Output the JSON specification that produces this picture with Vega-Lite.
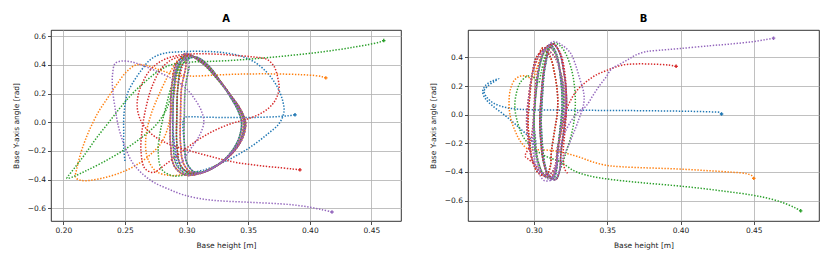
{
"$schema": "https://vega.github.io/schema/vega-lite/v6.json",
"padding": {"left": 11, "top": 13, "right": 5, "bottom": 4},
"spacing": 26,
"config": {
 "font": "DejaVu Sans",
 "view": {"stroke": "#000", "strokeWidth": 0.8},
 "axis": {"labelFont": "DejaVu Sans", "labelFontSize": 7.5, "labelColor": "#222", "titleFont": "DejaVu Sans", "titleFontSize": 7.5, "titleFontWeight": "normal", "titleColor": "#222", "tickColor": "#222", "tickSize": 3.5, "tickWidth": 0.8, "domain": false, "gridColor": "#b0b0b0", "gridWidth": 0.8, "labelPadding": 2, "titlePadding": 7, "labelFlush": false, "labelOverlap": false},
 "title": {"font": "DejaVu Sans", "fontSize": 10, "fontWeight": "bold", "offset": 6, "color": "#000"}
},
"datasets": {
"a": [
{"s":0,"x":0.250,"y":-0.270},{"s":0,"x":0.249,"y":-0.180},{"s":0,"x":0.249,"y":-0.080},{"s":0,"x":0.249,"y":0.020},{"s":0,"x":0.250,"y":0.120},{"s":0,"x":0.252,"y":0.200},{"s":0,"x":0.256,"y":0.270},{"s":0,"x":0.263,"y":0.360},{"s":0,"x":0.271,"y":0.440},{"s":0,"x":0.281,"y":0.480},{"s":0,"x":0.295,"y":0.492},{"s":0,"x":0.312,"y":0.495},{"s":0,"x":0.328,"y":0.488},{"s":0,"x":0.344,"y":0.462},{"s":0,"x":0.357,"y":0.410},{"s":0,"x":0.367,"y":0.330},{"s":0,"x":0.374,"y":0.240},{"s":0,"x":0.378,"y":0.150},{"s":0,"x":0.379,"y":0.070},{"s":0,"x":0.375,"y":-0.010},{"s":0,"x":0.366,"y":-0.080},{"s":0,"x":0.354,"y":-0.160},{"s":0,"x":0.341,"y":-0.230},{"s":0,"x":0.327,"y":-0.290},{"s":0,"x":0.313,"y":-0.335},{"s":0,"x":0.302,"y":-0.345},{"s":0,"x":0.294,"y":-0.310},{"s":0,"x":0.290,"y":-0.150},{"s":0,"x":0.289,"y":0.100},{"s":0,"x":0.292,"y":0.350},
{"s":0,"x":0.2985,"y":0.479},{"s":0,"x":0.3122,"y":0.418},{"s":0,"x":0.3248,"y":0.306},{"s":0,"x":0.3353,"y":0.194},{"s":0,"x":0.3437,"y":0.092},{"s":0,"x":0.3479,"y":0.0},{"s":0,"x":0.3458,"y":-0.102},{"s":0,"x":0.3384,"y":-0.204},{"s":0,"x":0.3258,"y":-0.296},{"s":0,"x":0.3111,"y":-0.357},{"s":0,"x":0.2985,"y":-0.367},{"s":0,"x":0.2901,"y":-0.306},{"s":0,"x":0.287,"y":-0.153},{"s":0,"x":0.287,"y":0.051},{"s":0,"x":0.288,"y":0.255},{"s":0,"x":0.2922,"y":0.418},
{"s":0,"x":0.3025,"y":0.465},{"s":0,"x":0.3149,"y":0.406},{"s":0,"x":0.3263,"y":0.297},{"s":0,"x":0.3358,"y":0.188},{"s":0,"x":0.3434,"y":0.089},{"s":0,"x":0.3472,"y":0.0},{"s":0,"x":0.3453,"y":-0.099},{"s":0,"x":0.3386,"y":-0.198},{"s":0,"x":0.3272,"y":-0.287},{"s":0,"x":0.3139,"y":-0.347},{"s":0,"x":0.3025,"y":-0.356},{"s":0,"x":0.2949,"y":-0.297},{"s":0,"x":0.2921,"y":-0.149},{"s":0,"x":0.2921,"y":0.05},{"s":0,"x":0.293,"y":0.248},{"s":0,"x":0.2968,"y":0.406},
{"s":0,"x":0.307,"y":0.456},{"s":0,"x":0.3174,"y":0.398},{"s":0,"x":0.327,"y":0.291},{"s":0,"x":0.335,"y":0.184},{"s":0,"x":0.3414,"y":0.087},{"s":0,"x":0.3446,"y":0.0},{"s":0,"x":0.343,"y":-0.097},{"s":0,"x":0.3374,"y":-0.194},{"s":0,"x":0.3278,"y":-0.281},{"s":0,"x":0.3166,"y":-0.34},{"s":0,"x":0.307,"y":-0.349},{"s":0,"x":0.3006,"y":-0.291},{"s":0,"x":0.2982,"y":-0.146},{"s":0,"x":0.2982,"y":0.030},
{"s":0,"x":0.305,"y":0.038},{"s":0,"x":0.315,"y":0.035},{"s":0,"x":0.325,"y":0.034},{"s":0,"x":0.335,"y":0.033},{"s":0,"x":0.345,"y":0.033},{"s":0,"x":0.355,"y":0.034},{"s":0,"x":0.365,"y":0.036},{"s":0,"x":0.375,"y":0.040},{"s":0,"x":0.383,"y":0.046},{"s":0,"x":0.388,"y":0.052,"m":1},

{"s":1,"x":0.413,"y":0.310,"m":1},{"s":1,"x":0.410,"y":0.318},{"s":1,"x":0.404,"y":0.326},{"s":1,"x":0.394,"y":0.332},{"s":1,"x":0.380,"y":0.336},{"s":1,"x":0.365,"y":0.338},{"s":1,"x":0.350,"y":0.337},{"s":1,"x":0.335,"y":0.334},{"s":1,"x":0.320,"y":0.328},{"s":1,"x":0.305,"y":0.322},{"s":1,"x":0.292,"y":0.330},{"s":1,"x":0.280,"y":0.360},{"s":1,"x":0.268,"y":0.395},{"s":1,"x":0.259,"y":0.400},{"s":1,"x":0.251,"y":0.350},{"s":1,"x":0.243,"y":0.260},{"s":1,"x":0.236,"y":0.170},{"s":1,"x":0.229,"y":0.080},{"s":1,"x":0.223,"y":-0.020},{"s":1,"x":0.218,"y":-0.120},{"s":1,"x":0.214,"y":-0.220},{"s":1,"x":0.211,"y":-0.320},{"s":1,"x":0.210,"y":-0.385},{"s":1,"x":0.214,"y":-0.405},{"s":1,"x":0.222,"y":-0.405},{"s":1,"x":0.234,"y":-0.385},{"s":1,"x":0.247,"y":-0.350},{"s":1,"x":0.259,"y":-0.300},{"s":1,"x":0.270,"y":-0.230},{"s":1,"x":0.279,"y":-0.150},{"s":1,"x":0.284,"y":-0.060},{"s":1,"x":0.287,"y":0.050},{"s":1,"x":0.290,"y":0.200},{"s":1,"x":0.293,"y":0.350},{"s":1,"x":0.297,"y":0.440},
{"s":1,"x":0.300,"y":0.47},{"s":1,"x":0.313,"y":0.41},{"s":1,"x":0.325,"y":0.30},{"s":1,"x":0.335,"y":0.19},{"s":1,"x":0.343,"y":0.09},{"s":1,"x":0.347,"y":0.0},{"s":1,"x":0.345,"y":-0.10},{"s":1,"x":0.338,"y":-0.20},{"s":1,"x":0.326,"y":-0.29},{"s":1,"x":0.312,"y":-0.35},{"s":1,"x":0.300,"y":-0.36},
{"s":1,"x":0.287,"y":-0.372},{"s":1,"x":0.275,"y":-0.340},{"s":1,"x":0.268,"y":-0.240},{"s":1,"x":0.267,"y":-0.100},{"s":1,"x":0.271,"y":0.050},{"s":1,"x":0.278,"y":0.200},{"s":1,"x":0.286,"y":0.340},{"s":1,"x":0.294,"y":0.440},
{"s":1,"x":0.3048,"y":0.461},{"s":1,"x":0.3162,"y":0.402},{"s":1,"x":0.3268,"y":0.294},{"s":1,"x":0.3356,"y":0.186},{"s":1,"x":0.3426,"y":0.088},{"s":1,"x":0.3462,"y":0.0},{"s":1,"x":0.3444,"y":-0.098},{"s":1,"x":0.3382,"y":-0.196},{"s":1,"x":0.3277,"y":-0.284},{"s":1,"x":0.3154,"y":-0.343},{"s":1,"x":0.3048,"y":-0.353},{"s":1,"x":0.2978,"y":-0.294},{"s":1,"x":0.2951,"y":-0.147},{"s":1,"x":0.2951,"y":0.049},{"s":1,"x":0.296,"y":0.245},{"s":1,"x":0.2995,"y":0.402},
{"s":1,"x":0.2985,"y":0.479},{"s":1,"x":0.3122,"y":0.418},{"s":1,"x":0.3248,"y":0.306},{"s":1,"x":0.3353,"y":0.194},{"s":1,"x":0.3437,"y":0.092},{"s":1,"x":0.3479,"y":0.0},{"s":1,"x":0.3458,"y":-0.102},{"s":1,"x":0.3384,"y":-0.204},{"s":1,"x":0.3258,"y":-0.296},{"s":1,"x":0.3111,"y":-0.357},{"s":1,"x":0.2985,"y":-0.367},{"s":1,"x":0.2901,"y":-0.306},{"s":1,"x":0.287,"y":-0.153},{"s":1,"x":0.287,"y":0.051},{"s":1,"x":0.288,"y":0.255},{"s":1,"x":0.2922,"y":0.418},

{"s":2,"x":0.460,"y":0.570,"m":1},{"s":2,"x":0.456,"y":0.558},{"s":2,"x":0.448,"y":0.543},{"s":2,"x":0.436,"y":0.525},{"s":2,"x":0.420,"y":0.503},{"s":2,"x":0.403,"y":0.484},{"s":2,"x":0.385,"y":0.467},{"s":2,"x":0.367,"y":0.452},{"s":2,"x":0.350,"y":0.440},{"s":2,"x":0.333,"y":0.430},{"s":2,"x":0.316,"y":0.424},{"s":2,"x":0.300,"y":0.418},{"s":2,"x":0.287,"y":0.400},{"s":2,"x":0.276,"y":0.350},{"s":2,"x":0.266,"y":0.280},{"s":2,"x":0.256,"y":0.200},{"s":2,"x":0.246,"y":0.100},{"s":2,"x":0.236,"y":-0.010},{"s":2,"x":0.226,"y":-0.120},{"s":2,"x":0.217,"y":-0.230},{"s":2,"x":0.209,"y":-0.320},{"s":2,"x":0.204,"y":-0.375},{"s":2,"x":0.203,"y":-0.392},{"s":2,"x":0.208,"y":-0.380},{"s":2,"x":0.218,"y":-0.340},{"s":2,"x":0.232,"y":-0.280},{"s":2,"x":0.248,"y":-0.200},{"s":2,"x":0.263,"y":-0.110},{"s":2,"x":0.275,"y":-0.020},{"s":2,"x":0.283,"y":0.080},{"s":2,"x":0.288,"y":0.200},{"s":2,"x":0.292,"y":0.340},{"s":2,"x":0.297,"y":0.440},
{"s":2,"x":0.3025,"y":0.465},{"s":2,"x":0.3149,"y":0.406},{"s":2,"x":0.3263,"y":0.297},{"s":2,"x":0.3358,"y":0.188},{"s":2,"x":0.3434,"y":0.089},{"s":2,"x":0.3472,"y":0.0},{"s":2,"x":0.3453,"y":-0.099},{"s":2,"x":0.3386,"y":-0.198},{"s":2,"x":0.3272,"y":-0.287},{"s":2,"x":0.3139,"y":-0.347},{"s":2,"x":0.3025,"y":-0.356},{"s":2,"x":0.2949,"y":-0.297},{"s":2,"x":0.2921,"y":-0.149},{"s":2,"x":0.2921,"y":0.05},{"s":2,"x":0.293,"y":0.248},{"s":2,"x":0.2968,"y":0.406},
{"s":2,"x":0.307,"y":0.456},{"s":2,"x":0.3174,"y":0.398},{"s":2,"x":0.327,"y":0.291},{"s":2,"x":0.335,"y":0.184},{"s":2,"x":0.3414,"y":0.087},{"s":2,"x":0.3446,"y":0.0},{"s":2,"x":0.343,"y":-0.097},{"s":2,"x":0.3374,"y":-0.194},{"s":2,"x":0.3278,"y":-0.281},{"s":2,"x":0.3166,"y":-0.34},{"s":2,"x":0.307,"y":-0.349},
{"s":2,"x":0.290,"y":-0.375},{"s":2,"x":0.280,"y":-0.330},{"s":2,"x":0.277,"y":-0.200},{"s":2,"x":0.279,"y":-0.050},{"s":2,"x":0.283,"y":0.100},{"s":2,"x":0.288,"y":0.260},{"s":2,"x":0.294,"y":0.400},
{"s":2,"x":0.300,"y":0.47},{"s":2,"x":0.313,"y":0.41},{"s":2,"x":0.325,"y":0.30},{"s":2,"x":0.335,"y":0.19},{"s":2,"x":0.343,"y":0.09},{"s":2,"x":0.347,"y":0.0},{"s":2,"x":0.345,"y":-0.10},{"s":2,"x":0.338,"y":-0.20},{"s":2,"x":0.326,"y":-0.29},{"s":2,"x":0.312,"y":-0.35},{"s":2,"x":0.300,"y":-0.36},{"s":2,"x":0.292,"y":-0.30},{"s":2,"x":0.289,"y":-0.15},{"s":2,"x":0.289,"y":0.05},{"s":2,"x":0.290,"y":0.25},{"s":2,"x":0.294,"y":0.41},
{"s":2,"x":0.307,"y":0.456},{"s":2,"x":0.3174,"y":0.398},{"s":2,"x":0.327,"y":0.291},{"s":2,"x":0.335,"y":0.184},{"s":2,"x":0.3414,"y":0.087},{"s":2,"x":0.3446,"y":0.0},{"s":2,"x":0.343,"y":-0.097},{"s":2,"x":0.3374,"y":-0.194},{"s":2,"x":0.3278,"y":-0.281},{"s":2,"x":0.3166,"y":-0.34},{"s":2,"x":0.307,"y":-0.349},{"s":2,"x":0.3006,"y":-0.291},{"s":2,"x":0.2982,"y":-0.146},{"s":2,"x":0.2982,"y":0.049},{"s":2,"x":0.299,"y":0.243},{"s":2,"x":0.3022,"y":0.398},

{"s":3,"x":0.392,"y":-0.332,"m":1},{"s":3,"x":0.386,"y":-0.326},{"s":3,"x":0.377,"y":-0.318},{"s":3,"x":0.366,"y":-0.309},{"s":3,"x":0.354,"y":-0.297},{"s":3,"x":0.342,"y":-0.283},{"s":3,"x":0.330,"y":-0.262},{"s":3,"x":0.318,"y":-0.235},{"s":3,"x":0.305,"y":-0.205},{"s":3,"x":0.292,"y":-0.172},{"s":3,"x":0.280,"y":-0.130},{"s":3,"x":0.270,"y":-0.070},{"s":3,"x":0.263,"y":0.010},{"s":3,"x":0.260,"y":0.100},{"s":3,"x":0.261,"y":0.200},{"s":3,"x":0.265,"y":0.290},{"s":3,"x":0.271,"y":0.370},{"s":3,"x":0.280,"y":0.430},{"s":3,"x":0.292,"y":0.465},{"s":3,"x":0.308,"y":0.478},{"s":3,"x":0.325,"y":0.475},{"s":3,"x":0.342,"y":0.465},{"s":3,"x":0.355,"y":0.455},{"s":3,"x":0.365,"y":0.440},{"s":3,"x":0.371,"y":0.390},{"s":3,"x":0.374,"y":0.310},{"s":3,"x":0.375,"y":0.230},{"s":3,"x":0.371,"y":0.140},{"s":3,"x":0.362,"y":0.070},{"s":3,"x":0.350,"y":0.025},{"s":3,"x":0.336,"y":-0.010},{"s":3,"x":0.322,"y":-0.060},{"s":3,"x":0.308,"y":-0.130},{"s":3,"x":0.294,"y":-0.220},{"s":3,"x":0.282,"y":-0.300},{"s":3,"x":0.273,"y":-0.350},{"s":3,"x":0.266,"y":-0.320},{"s":3,"x":0.263,"y":-0.200},{"s":3,"x":0.264,"y":-0.050},{"s":3,"x":0.267,"y":0.100},{"s":3,"x":0.272,"y":0.250},{"s":3,"x":0.280,"y":0.380},{"s":3,"x":0.290,"y":0.445},
{"s":3,"x":0.3048,"y":0.461},{"s":3,"x":0.3162,"y":0.402},{"s":3,"x":0.3268,"y":0.294},{"s":3,"x":0.3356,"y":0.186},{"s":3,"x":0.3426,"y":0.088},{"s":3,"x":0.3462,"y":0.0},{"s":3,"x":0.3444,"y":-0.098},{"s":3,"x":0.3382,"y":-0.196},{"s":3,"x":0.3277,"y":-0.284},{"s":3,"x":0.3154,"y":-0.343},{"s":3,"x":0.3048,"y":-0.353},{"s":3,"x":0.2978,"y":-0.294},{"s":3,"x":0.2951,"y":-0.147},{"s":3,"x":0.2951,"y":0.049},{"s":3,"x":0.296,"y":0.245},{"s":3,"x":0.2995,"y":0.402},
{"s":3,"x":0.2985,"y":0.479},{"s":3,"x":0.3122,"y":0.418},{"s":3,"x":0.3248,"y":0.306},{"s":3,"x":0.3353,"y":0.194},{"s":3,"x":0.3437,"y":0.092},{"s":3,"x":0.3479,"y":0.0},{"s":3,"x":0.3458,"y":-0.102},{"s":3,"x":0.3384,"y":-0.204},{"s":3,"x":0.3258,"y":-0.296},{"s":3,"x":0.3111,"y":-0.357},{"s":3,"x":0.2985,"y":-0.367},{"s":3,"x":0.2901,"y":-0.306},{"s":3,"x":0.287,"y":-0.153},{"s":3,"x":0.287,"y":0.051},{"s":3,"x":0.288,"y":0.255},{"s":3,"x":0.2922,"y":0.418},
{"s":3,"x":0.3025,"y":0.465},{"s":3,"x":0.3149,"y":0.406},{"s":3,"x":0.3263,"y":0.297},{"s":3,"x":0.3358,"y":0.188},{"s":3,"x":0.3434,"y":0.089},{"s":3,"x":0.3472,"y":0.0},{"s":3,"x":0.3453,"y":-0.099},{"s":3,"x":0.3386,"y":-0.198},{"s":3,"x":0.3272,"y":-0.287},{"s":3,"x":0.3139,"y":-0.347},{"s":3,"x":0.3025,"y":-0.356},{"s":3,"x":0.2949,"y":-0.297},{"s":3,"x":0.2921,"y":-0.149},{"s":3,"x":0.2921,"y":0.05},{"s":3,"x":0.293,"y":0.248},{"s":3,"x":0.2968,"y":0.406},

{"s":4,"x":0.418,"y":-0.626,"m":1},{"s":4,"x":0.410,"y":-0.610},{"s":4,"x":0.400,"y":-0.593},{"s":4,"x":0.388,"y":-0.578},{"s":4,"x":0.376,"y":-0.569},{"s":4,"x":0.360,"y":-0.562},{"s":4,"x":0.345,"y":-0.556},{"s":4,"x":0.330,"y":-0.550},{"s":4,"x":0.315,"y":-0.538},{"s":4,"x":0.298,"y":-0.508},{"s":4,"x":0.285,"y":-0.465},{"s":4,"x":0.273,"y":-0.417},{"s":4,"x":0.263,"y":-0.350},{"s":4,"x":0.256,"y":-0.280},{"s":4,"x":0.250,"y":-0.170},{"s":4,"x":0.245,"y":-0.040},{"s":4,"x":0.242,"y":0.100},{"s":4,"x":0.240,"y":0.230},{"s":4,"x":0.240,"y":0.340},{"s":4,"x":0.242,"y":0.410},{"s":4,"x":0.247,"y":0.427},{"s":4,"x":0.255,"y":0.422},{"s":4,"x":0.265,"y":0.395},{"s":4,"x":0.276,"y":0.355},{"s":4,"x":0.288,"y":0.305},{"s":4,"x":0.298,"y":0.250},{"s":4,"x":0.306,"y":0.170},{"s":4,"x":0.312,"y":0.080},{"s":4,"x":0.314,"y":0.000},{"s":4,"x":0.310,"y":-0.100},{"s":4,"x":0.302,"y":-0.200},{"s":4,"x":0.295,"y":-0.280},{"s":4,"x":0.290,"y":-0.150},{"s":4,"x":0.289,"y":0.050},{"s":4,"x":0.290,"y":0.250},{"s":4,"x":0.294,"y":0.410},
{"s":4,"x":0.307,"y":0.456},{"s":4,"x":0.3174,"y":0.398},{"s":4,"x":0.327,"y":0.291},{"s":4,"x":0.335,"y":0.184},{"s":4,"x":0.3414,"y":0.087},{"s":4,"x":0.3446,"y":0.0},{"s":4,"x":0.343,"y":-0.097},{"s":4,"x":0.3374,"y":-0.194},{"s":4,"x":0.3278,"y":-0.281},{"s":4,"x":0.3166,"y":-0.34},{"s":4,"x":0.307,"y":-0.349},{"s":4,"x":0.3006,"y":-0.291},{"s":4,"x":0.2982,"y":-0.146},{"s":4,"x":0.2982,"y":0.049},{"s":4,"x":0.299,"y":0.243},{"s":4,"x":0.3022,"y":0.398},
{"s":4,"x":0.300,"y":0.47},{"s":4,"x":0.313,"y":0.41},{"s":4,"x":0.325,"y":0.30},{"s":4,"x":0.335,"y":0.19},{"s":4,"x":0.343,"y":0.09},{"s":4,"x":0.347,"y":0.0},{"s":4,"x":0.345,"y":-0.10},{"s":4,"x":0.338,"y":-0.20},{"s":4,"x":0.326,"y":-0.29},{"s":4,"x":0.312,"y":-0.35},{"s":4,"x":0.300,"y":-0.36},{"s":4,"x":0.292,"y":-0.30},{"s":4,"x":0.289,"y":-0.15},{"s":4,"x":0.289,"y":0.05},{"s":4,"x":0.290,"y":0.25},{"s":4,"x":0.294,"y":0.41},
{"s":4,"x":0.3048,"y":0.461},{"s":4,"x":0.3162,"y":0.402},{"s":4,"x":0.3268,"y":0.294},{"s":4,"x":0.3356,"y":0.186},{"s":4,"x":0.3426,"y":0.088},{"s":4,"x":0.3462,"y":0.0},{"s":4,"x":0.3444,"y":-0.098},{"s":4,"x":0.3382,"y":-0.196},{"s":4,"x":0.3277,"y":-0.284},{"s":4,"x":0.3154,"y":-0.343},{"s":4,"x":0.3048,"y":-0.353},{"s":4,"x":0.2978,"y":-0.294},{"s":4,"x":0.2951,"y":-0.147},{"s":4,"x":0.2951,"y":0.049},{"s":4,"x":0.296,"y":0.245},{"s":4,"x":0.2995,"y":0.402},
{"s":4,"x":0.2985,"y":0.479},{"s":4,"x":0.3122,"y":0.418},{"s":4,"x":0.3248,"y":0.306},{"s":4,"x":0.3353,"y":0.194},{"s":4,"x":0.3437,"y":0.092},{"s":4,"x":0.3479,"y":0.0},{"s":4,"x":0.3458,"y":-0.102},{"s":4,"x":0.3384,"y":-0.204},{"s":4,"x":0.3258,"y":-0.296},{"s":4,"x":0.3111,"y":-0.357},{"s":4,"x":0.2985,"y":-0.367},{"s":4,"x":0.2901,"y":-0.306},{"s":4,"x":0.287,"y":-0.153},{"s":4,"x":0.287,"y":0.051},{"s":4,"x":0.288,"y":0.255},{"s":4,"x":0.2922,"y":0.418}
],
"b": [
{"s":0,"x":0.428,"y":0.005,"m":1},{"s":0,"x":0.427,"y":0.015},{"s":0,"x":0.420,"y":0.020},{"s":0,"x":0.405,"y":0.024},{"s":0,"x":0.390,"y":0.026},{"s":0,"x":0.375,"y":0.028},{"s":0,"x":0.360,"y":0.029},{"s":0,"x":0.345,"y":0.030},{"s":0,"x":0.330,"y":0.031},{"s":0,"x":0.315,"y":0.032},{"s":0,"x":0.300,"y":0.034},{"s":0,"x":0.290,"y":0.038},{"s":0,"x":0.281,"y":0.050},{"s":0,"x":0.273,"y":0.078},{"s":0,"x":0.268,"y":0.120},{"s":0,"x":0.266,"y":0.165},{"s":0,"x":0.269,"y":0.205},{"s":0,"x":0.273,"y":0.232},{"s":0,"x":0.276,"y":0.252},{"s":0,"x":0.272,"y":0.238},{"s":0,"x":0.267,"y":0.205},{"s":0,"x":0.265,"y":0.160},{"s":0,"x":0.267,"y":0.110},{"s":0,"x":0.272,"y":0.060},{"s":0,"x":0.279,"y":0.005},{"s":0,"x":0.286,"y":-0.055},{"s":0,"x":0.292,"y":-0.110},{"s":0,"x":0.297,"y":-0.160},{"s":0,"x":0.301,"y":-0.220},{"s":0,"x":0.300,"y":-0.050},{"s":0,"x":0.301,"y":0.120},{"s":0,"x":0.303,"y":0.300},{"s":0,"x":0.306,"y":0.420},
{"s":0,"x":0.306,"y":0.466},{"s":0,"x":0.311,"y":0.407},{"s":0,"x":0.314,"y":0.291},{"s":0,"x":0.316,"y":0.155},{"s":0,"x":0.316,"y":0.019},{"s":0,"x":0.314,"y":-0.116},{"s":0,"x":0.312,"y":-0.252},{"s":0,"x":0.311,"y":-0.369},{"s":0,"x":0.308,"y":-0.427},{"s":0,"x":0.303,"y":-0.407},{"s":0,"x":0.299,"y":-0.32},{"s":0,"x":0.297,"y":-0.194},{"s":0,"x":0.296,"y":-0.049},{"s":0,"x":0.297,"y":0.116},{"s":0,"x":0.299,"y":0.291},{"s":0,"x":0.302,"y":0.407},
{"s":0,"x":0.313,"y":0.494},{"s":0,"x":0.3175,"y":0.433},{"s":0,"x":0.3202,"y":0.309},{"s":0,"x":0.322,"y":0.165},{"s":0,"x":0.322,"y":0.021},{"s":0,"x":0.3202,"y":-0.124},{"s":0,"x":0.3184,"y":-0.268},{"s":0,"x":0.3175,"y":-0.391},{"s":0,"x":0.3148,"y":-0.453},{"s":0,"x":0.3103,"y":-0.433},{"s":0,"x":0.3067,"y":-0.34},{"s":0,"x":0.3049,"y":-0.206},{"s":0,"x":0.304,"y":-0.052},{"s":0,"x":0.3049,"y":0.124},{"s":0,"x":0.3067,"y":0.309},{"s":0,"x":0.3094,"y":0.433},
{"s":0,"x":0.312,"y":0.48},{"s":0,"x":0.3155,"y":0.42},{"s":0,"x":0.3176,"y":0.30},{"s":0,"x":0.319,"y":0.16},{"s":0,"x":0.319,"y":0.02},{"s":0,"x":0.3176,"y":-0.12},{"s":0,"x":0.3162,"y":-0.26},{"s":0,"x":0.3155,"y":-0.38},{"s":0,"x":0.3134,"y":-0.44},{"s":0,"x":0.3099,"y":-0.42},{"s":0,"x":0.3071,"y":-0.33},{"s":0,"x":0.3057,"y":-0.20},{"s":0,"x":0.305,"y":-0.05},{"s":0,"x":0.3057,"y":0.12},{"s":0,"x":0.3071,"y":0.30},{"s":0,"x":0.3092,"y":0.42},

{"s":1,"x":0.450,"y":-0.445,"m":1},{"s":1,"x":0.449,"y":-0.428},{"s":1,"x":0.445,"y":-0.412},{"s":1,"x":0.435,"y":-0.402},{"s":1,"x":0.420,"y":-0.392},{"s":1,"x":0.405,"y":-0.383},{"s":1,"x":0.390,"y":-0.376},{"s":1,"x":0.375,"y":-0.371},{"s":1,"x":0.360,"y":-0.364},{"s":1,"x":0.350,"y":-0.355},{"s":1,"x":0.340,"y":-0.330},{"s":1,"x":0.332,"y":-0.300},{"s":1,"x":0.322,"y":-0.270},{"s":1,"x":0.312,"y":-0.250},{"s":1,"x":0.303,"y":-0.245},{"s":1,"x":0.296,"y":-0.240},{"s":1,"x":0.291,"y":-0.190},{"s":1,"x":0.287,"y":-0.110},{"s":1,"x":0.284,"y":-0.020},{"s":1,"x":0.283,"y":0.080},{"s":1,"x":0.284,"y":0.180},{"s":1,"x":0.287,"y":0.245},{"s":1,"x":0.291,"y":0.270},{"s":1,"x":0.295,"y":0.270},{"s":1,"x":0.299,"y":0.250},{"s":1,"x":0.302,"y":0.330},{"s":1,"x":0.306,"y":0.430},
{"s":1,"x":0.31,"y":0.48},{"s":1,"x":0.315,"y":0.42},{"s":1,"x":0.318,"y":0.30},{"s":1,"x":0.32,"y":0.16},{"s":1,"x":0.32,"y":0.02},{"s":1,"x":0.318,"y":-0.12},{"s":1,"x":0.316,"y":-0.26},{"s":1,"x":0.315,"y":-0.38},{"s":1,"x":0.312,"y":-0.44},{"s":1,"x":0.307,"y":-0.42},{"s":1,"x":0.303,"y":-0.33},{"s":1,"x":0.301,"y":-0.20},{"s":1,"x":0.30,"y":-0.05},{"s":1,"x":0.301,"y":0.12},{"s":1,"x":0.303,"y":0.30},{"s":1,"x":0.306,"y":0.42},
{"s":1,"x":0.308,"y":0.456},{"s":1,"x":0.3145,"y":0.399},{"s":1,"x":0.3184,"y":0.285},{"s":1,"x":0.321,"y":0.152},{"s":1,"x":0.321,"y":0.019},{"s":1,"x":0.3184,"y":-0.114},{"s":1,"x":0.3158,"y":-0.247},{"s":1,"x":0.3145,"y":-0.361},{"s":1,"x":0.3106,"y":-0.418},{"s":1,"x":0.3041,"y":-0.399},{"s":1,"x":0.2989,"y":-0.314},{"s":1,"x":0.2963,"y":-0.19},{"s":1,"x":0.295,"y":-0.048},{"s":1,"x":0.2963,"y":0.114},{"s":1,"x":0.2989,"y":0.285},{"s":1,"x":0.3028,"y":0.399},
{"s":1,"x":0.306,"y":0.466},{"s":1,"x":0.311,"y":0.407},{"s":1,"x":0.314,"y":0.291},{"s":1,"x":0.316,"y":0.155},{"s":1,"x":0.316,"y":0.019},{"s":1,"x":0.314,"y":-0.116},{"s":1,"x":0.312,"y":-0.252},{"s":1,"x":0.311,"y":-0.369},{"s":1,"x":0.308,"y":-0.427},{"s":1,"x":0.303,"y":-0.407},{"s":1,"x":0.299,"y":-0.32},{"s":1,"x":0.297,"y":-0.194},{"s":1,"x":0.296,"y":-0.049},{"s":1,"x":0.297,"y":0.116},{"s":1,"x":0.299,"y":0.291},{"s":1,"x":0.302,"y":0.407},

{"s":2,"x":0.482,"y":-0.672,"m":1},{"s":2,"x":0.478,"y":-0.650},{"s":2,"x":0.470,"y":-0.615},{"s":2,"x":0.460,"y":-0.585},{"s":2,"x":0.449,"y":-0.562},{"s":2,"x":0.430,"y":-0.535},{"s":2,"x":0.410,"y":-0.510},{"s":2,"x":0.390,"y":-0.490},{"s":2,"x":0.370,"y":-0.472},{"s":2,"x":0.352,"y":-0.452},{"s":2,"x":0.338,"y":-0.428},{"s":2,"x":0.328,"y":-0.395},{"s":2,"x":0.318,"y":-0.330},{"s":2,"x":0.308,"y":-0.290},{"s":2,"x":0.300,"y":-0.240},{"s":2,"x":0.293,"y":-0.160},{"s":2,"x":0.289,"y":-0.060},{"s":2,"x":0.287,"y":0.050},{"s":2,"x":0.288,"y":0.150},{"s":2,"x":0.291,"y":0.230},{"s":2,"x":0.296,"y":0.270},{"s":2,"x":0.300,"y":0.260},{"s":2,"x":0.303,"y":0.220},{"s":2,"x":0.305,"y":0.300},{"s":2,"x":0.308,"y":0.420},
{"s":2,"x":0.313,"y":0.494},{"s":2,"x":0.3175,"y":0.433},{"s":2,"x":0.3202,"y":0.309},{"s":2,"x":0.322,"y":0.165},{"s":2,"x":0.322,"y":0.021},{"s":2,"x":0.3202,"y":-0.124},{"s":2,"x":0.3184,"y":-0.268},{"s":2,"x":0.3175,"y":-0.391},{"s":2,"x":0.3148,"y":-0.453},{"s":2,"x":0.3103,"y":-0.433},{"s":2,"x":0.3067,"y":-0.34},{"s":2,"x":0.3049,"y":-0.206},{"s":2,"x":0.304,"y":-0.052},{"s":2,"x":0.3049,"y":0.124},{"s":2,"x":0.3067,"y":0.309},{"s":2,"x":0.3094,"y":0.433},
{"s":2,"x":0.313,"y":0.500},{"s":2,"x":0.318,"y":0.480},{"s":2,"x":0.322,"y":0.420},{"s":2,"x":0.326,"y":0.300},{"s":2,"x":0.328,"y":0.160},{"s":2,"x":0.328,"y":0.020},{"s":2,"x":0.326,"y":-0.120},{"s":2,"x":0.322,"y":-0.260},{"s":2,"x":0.318,"y":-0.380},{"s":2,"x":0.315,"y":-0.440},{"s":2,"x":0.309,"y":-0.440},{"s":2,"x":0.304,"y":-0.370},{"s":2,"x":0.301,"y":-0.250},{"s":2,"x":0.300,"y":-0.100},{"s":2,"x":0.301,"y":0.100},{"s":2,"x":0.303,"y":0.280},{"s":2,"x":0.306,"y":0.420},
{"s":2,"x":0.312,"y":0.48},{"s":2,"x":0.3155,"y":0.42},{"s":2,"x":0.3176,"y":0.30},{"s":2,"x":0.319,"y":0.16},{"s":2,"x":0.319,"y":0.02},{"s":2,"x":0.3176,"y":-0.12},{"s":2,"x":0.3162,"y":-0.26},{"s":2,"x":0.3155,"y":-0.38},{"s":2,"x":0.3134,"y":-0.44},{"s":2,"x":0.3099,"y":-0.42},{"s":2,"x":0.3071,"y":-0.33},{"s":2,"x":0.3057,"y":-0.20},{"s":2,"x":0.305,"y":-0.05},{"s":2,"x":0.3057,"y":0.12},{"s":2,"x":0.3071,"y":0.30},{"s":2,"x":0.3092,"y":0.42},
{"s":2,"x":0.31,"y":0.48},{"s":2,"x":0.315,"y":0.42},{"s":2,"x":0.318,"y":0.30},{"s":2,"x":0.32,"y":0.16},{"s":2,"x":0.32,"y":0.02},{"s":2,"x":0.318,"y":-0.12},{"s":2,"x":0.316,"y":-0.26},{"s":2,"x":0.315,"y":-0.38},{"s":2,"x":0.312,"y":-0.44},{"s":2,"x":0.307,"y":-0.42},{"s":2,"x":0.303,"y":-0.33},{"s":2,"x":0.301,"y":-0.20},{"s":2,"x":0.30,"y":-0.05},{"s":2,"x":0.301,"y":0.12},{"s":2,"x":0.303,"y":0.30},{"s":2,"x":0.306,"y":0.42},

{"s":3,"x":0.397,"y":0.338,"m":1},{"s":3,"x":0.392,"y":0.347},{"s":3,"x":0.382,"y":0.353},{"s":3,"x":0.370,"y":0.355},{"s":3,"x":0.360,"y":0.346},{"s":3,"x":0.351,"y":0.315},{"s":3,"x":0.342,"y":0.275},{"s":3,"x":0.335,"y":0.225},{"s":3,"x":0.329,"y":0.165},{"s":3,"x":0.325,"y":0.100},{"s":3,"x":0.322,"y":0.030},{"s":3,"x":0.320,"y":-0.060},{"s":3,"x":0.318,"y":-0.160},{"s":3,"x":0.316,"y":-0.270},{"s":3,"x":0.315,"y":-0.370},{"s":3,"x":0.312,"y":-0.430},{"s":3,"x":0.306,"y":-0.420},{"s":3,"x":0.301,"y":-0.350},{"s":3,"x":0.296,"y":-0.310},{"s":3,"x":0.294,"y":-0.290},{"s":3,"x":0.297,"y":-0.220},{"s":3,"x":0.299,"y":-0.100},{"s":3,"x":0.300,"y":0.050},{"s":3,"x":0.301,"y":0.200},{"s":3,"x":0.303,"y":0.330},{"s":3,"x":0.306,"y":0.430},
{"s":3,"x":0.308,"y":0.456},{"s":3,"x":0.3145,"y":0.399},{"s":3,"x":0.3184,"y":0.285},{"s":3,"x":0.321,"y":0.152},{"s":3,"x":0.321,"y":0.019},{"s":3,"x":0.3184,"y":-0.114},{"s":3,"x":0.3158,"y":-0.247},{"s":3,"x":0.3145,"y":-0.361},{"s":3,"x":0.3106,"y":-0.418},{"s":3,"x":0.3041,"y":-0.399},{"s":3,"x":0.2989,"y":-0.314},{"s":3,"x":0.2963,"y":-0.19},{"s":3,"x":0.295,"y":-0.048},{"s":3,"x":0.2963,"y":0.114},{"s":3,"x":0.2989,"y":0.285},{"s":3,"x":0.3028,"y":0.399},
{"s":3,"x":0.306,"y":0.466},{"s":3,"x":0.311,"y":0.407},{"s":3,"x":0.314,"y":0.291},{"s":3,"x":0.316,"y":0.155},{"s":3,"x":0.316,"y":0.019},{"s":3,"x":0.314,"y":-0.116},{"s":3,"x":0.312,"y":-0.252},{"s":3,"x":0.311,"y":-0.369},{"s":3,"x":0.308,"y":-0.427},{"s":3,"x":0.303,"y":-0.407},{"s":3,"x":0.299,"y":-0.32},{"s":3,"x":0.297,"y":-0.194},{"s":3,"x":0.296,"y":-0.049},{"s":3,"x":0.297,"y":0.116},{"s":3,"x":0.299,"y":0.291},{"s":3,"x":0.302,"y":0.407},
{"s":3,"x":0.313,"y":0.494},{"s":3,"x":0.3175,"y":0.433},{"s":3,"x":0.3202,"y":0.309},{"s":3,"x":0.322,"y":0.165},{"s":3,"x":0.322,"y":0.021},{"s":3,"x":0.3202,"y":-0.124},{"s":3,"x":0.3184,"y":-0.268},{"s":3,"x":0.3175,"y":-0.391},{"s":3,"x":0.3148,"y":-0.453},{"s":3,"x":0.3103,"y":-0.433},{"s":3,"x":0.3067,"y":-0.34},{"s":3,"x":0.3049,"y":-0.206},{"s":3,"x":0.304,"y":-0.052},{"s":3,"x":0.3049,"y":0.124},{"s":3,"x":0.3067,"y":0.309},{"s":3,"x":0.3094,"y":0.433},
{"s":3,"x":0.313,"y":0.494},{"s":3,"x":0.318,"y":0.430},{"s":3,"x":0.321,"y":0.300},{"s":3,"x":0.322,"y":0.150},{"s":3,"x":0.322,"y":0.000},{"s":3,"x":0.321,"y":-0.130},{"s":3,"x":0.320,"y":-0.270},{"s":3,"x":0.321,"y":-0.380},{"s":3,"x":0.323,"y":-0.410},

{"s":4,"x":0.4635,"y":0.535,"m":1},{"s":4,"x":0.458,"y":0.525},{"s":4,"x":0.449,"y":0.510},{"s":4,"x":0.435,"y":0.495},{"s":4,"x":0.420,"y":0.482},{"s":4,"x":0.399,"y":0.462},{"s":4,"x":0.385,"y":0.450},{"s":4,"x":0.376,"y":0.440},{"s":4,"x":0.369,"y":0.415},{"s":4,"x":0.365,"y":0.390},{"s":4,"x":0.359,"y":0.355},{"s":4,"x":0.353,"y":0.320},{"s":4,"x":0.349,"y":0.260},{"s":4,"x":0.3445,"y":0.200},{"s":4,"x":0.340,"y":0.130},{"s":4,"x":0.3355,"y":0.060},{"s":4,"x":0.330,"y":0.016},{"s":4,"x":0.325,"y":-0.050},{"s":4,"x":0.320,"y":-0.150},{"s":4,"x":0.317,"y":-0.260},{"s":4,"x":0.315,"y":-0.370},{"s":4,"x":0.312,"y":-0.455},{"s":4,"x":0.307,"y":-0.460},{"s":4,"x":0.303,"y":-0.400},{"s":4,"x":0.300,"y":-0.300},{"s":4,"x":0.299,"y":-0.150},{"s":4,"x":0.300,"y":0.000},{"s":4,"x":0.301,"y":0.150},{"s":4,"x":0.303,"y":0.300},{"s":4,"x":0.306,"y":0.420},
{"s":4,"x":0.313,"y":0.510},{"s":4,"x":0.320,"y":0.480},{"s":4,"x":0.325,"y":0.430},{"s":4,"x":0.328,"y":0.360},{"s":4,"x":0.331,"y":0.260},{"s":4,"x":0.334,"y":0.150},{"s":4,"x":0.334,"y":0.080},{"s":4,"x":0.330,"y":-0.050},{"s":4,"x":0.325,"y":-0.180},{"s":4,"x":0.320,"y":-0.300},{"s":4,"x":0.317,"y":-0.400},{"s":4,"x":0.314,"y":-0.455},{"s":4,"x":0.308,"y":-0.440},{"s":4,"x":0.303,"y":-0.360},{"s":4,"x":0.300,"y":-0.200},{"s":4,"x":0.300,"y":0.000},{"s":4,"x":0.302,"y":0.200},{"s":4,"x":0.304,"y":0.350},{"s":4,"x":0.307,"y":0.440},
{"s":4,"x":0.312,"y":0.48},{"s":4,"x":0.3155,"y":0.42},{"s":4,"x":0.3176,"y":0.30},{"s":4,"x":0.319,"y":0.16},{"s":4,"x":0.319,"y":0.02},{"s":4,"x":0.3176,"y":-0.12},{"s":4,"x":0.3162,"y":-0.26},{"s":4,"x":0.3155,"y":-0.38},{"s":4,"x":0.3134,"y":-0.44},{"s":4,"x":0.3099,"y":-0.42},{"s":4,"x":0.3071,"y":-0.33},{"s":4,"x":0.3057,"y":-0.20},{"s":4,"x":0.305,"y":-0.05},{"s":4,"x":0.3057,"y":0.12},{"s":4,"x":0.3071,"y":0.30},{"s":4,"x":0.3092,"y":0.42},
{"s":4,"x":0.31,"y":0.48},{"s":4,"x":0.315,"y":0.42},{"s":4,"x":0.318,"y":0.30},{"s":4,"x":0.32,"y":0.16},{"s":4,"x":0.32,"y":0.02},{"s":4,"x":0.318,"y":-0.12},{"s":4,"x":0.316,"y":-0.26},{"s":4,"x":0.315,"y":-0.38},{"s":4,"x":0.312,"y":-0.44},{"s":4,"x":0.307,"y":-0.42},{"s":4,"x":0.303,"y":-0.33},{"s":4,"x":0.301,"y":-0.20},{"s":4,"x":0.30,"y":-0.05},{"s":4,"x":0.301,"y":0.12},{"s":4,"x":0.303,"y":0.30},{"s":4,"x":0.306,"y":0.42},
{"s":4,"x":0.308,"y":0.456},{"s":4,"x":0.3145,"y":0.399},{"s":4,"x":0.3184,"y":0.285},{"s":4,"x":0.321,"y":0.152},{"s":4,"x":0.321,"y":0.019},{"s":4,"x":0.3184,"y":-0.114},{"s":4,"x":0.3158,"y":-0.247},{"s":4,"x":0.3145,"y":-0.361},{"s":4,"x":0.3106,"y":-0.418},{"s":4,"x":0.3041,"y":-0.399},{"s":4,"x":0.2989,"y":-0.314},{"s":4,"x":0.2963,"y":-0.19},{"s":4,"x":0.295,"y":-0.048},{"s":4,"x":0.2963,"y":0.114},{"s":4,"x":0.2989,"y":0.285},{"s":4,"x":0.3028,"y":0.399},
{"s":4,"x":0.313,"y":0.494},{"s":4,"x":0.3175,"y":0.433},{"s":4,"x":0.3202,"y":0.309},{"s":4,"x":0.322,"y":0.165},{"s":4,"x":0.322,"y":0.021},{"s":4,"x":0.3202,"y":-0.124},{"s":4,"x":0.3184,"y":-0.268},{"s":4,"x":0.3175,"y":-0.391},{"s":4,"x":0.3148,"y":-0.453},{"s":4,"x":0.3103,"y":-0.433},{"s":4,"x":0.3067,"y":-0.34},{"s":4,"x":0.3049,"y":-0.206},{"s":4,"x":0.304,"y":-0.052},{"s":4,"x":0.3049,"y":0.124},{"s":4,"x":0.3067,"y":0.309},{"s":4,"x":0.3094,"y":0.433}
]
},
"hconcat": [
{
 "title": "A",
 "width": 350, "height": 191,
 "data": {"name": "a"},
 "encoding": {
  "x": {"field": "x", "type": "quantitative", "scale": {"domain": [0.19, 0.474], "nice": false, "zero": false}, "axis": {"values": [0.2, 0.25, 0.3, 0.35, 0.4, 0.45], "format": ".2f", "title": "Base height [m]"}},
  "y": {"field": "y", "type": "quantitative", "scale": {"domain": [-0.689, 0.644], "nice": false, "zero": false}, "axis": {"values": [-0.6, -0.4, -0.2, 0, 0.2, 0.4, 0.6], "format": ".1f", "title": "Base Y-axis angle [rad]"}},
  "color": {"field": "s", "type": "nominal", "scale": {"domain": [0, 1, 2, 3, 4], "range": ["#1f77b4", "#ff7f0e", "#2ca02c", "#d62728", "#9467bd"]}, "legend": null}
 },
 "layer": [
  {"mark": {"type": "line", "interpolate": "catmull-rom", "strokeDash": [1.4, 1.6], "strokeWidth": 1.5, "clip": true}, "encoding": {"order": {"value": null}}},
  {"transform": [{"filter": "datum.m == 1"}], "mark": {"type": "point", "shape": "cross", "filled": true, "size": 12, "opacity": 1}}
 ]
},
{
 "title": "B",
 "width": 351, "height": 191,
 "data": {"name": "b"},
 "encoding": {
  "x": {"field": "x", "type": "quantitative", "scale": {"domain": [0.255, 0.4945], "nice": false, "zero": false}, "axis": {"values": [0.3, 0.35, 0.4, 0.45], "format": ".2f", "title": "Base height [m]"}},
  "y": {"field": "y", "type": "quantitative", "scale": {"domain": [-0.743, 0.592], "nice": false, "zero": false}, "axis": {"values": [-0.6, -0.4, -0.2, 0, 0.2, 0.4], "format": ".1f", "title": "Base Y-axis angle [rad]"}},
  "color": {"field": "s", "type": "nominal", "scale": {"domain": [0, 1, 2, 3, 4], "range": ["#1f77b4", "#ff7f0e", "#2ca02c", "#d62728", "#9467bd"]}, "legend": null}
 },
 "layer": [
  {"mark": {"type": "line", "interpolate": "catmull-rom", "strokeDash": [1.4, 1.6], "strokeWidth": 1.5, "clip": true}, "encoding": {"order": {"value": null}}},
  {"transform": [{"filter": "datum.m == 1"}], "mark": {"type": "point", "shape": "cross", "filled": true, "size": 12, "opacity": 1}}
 ]
}
]
}
